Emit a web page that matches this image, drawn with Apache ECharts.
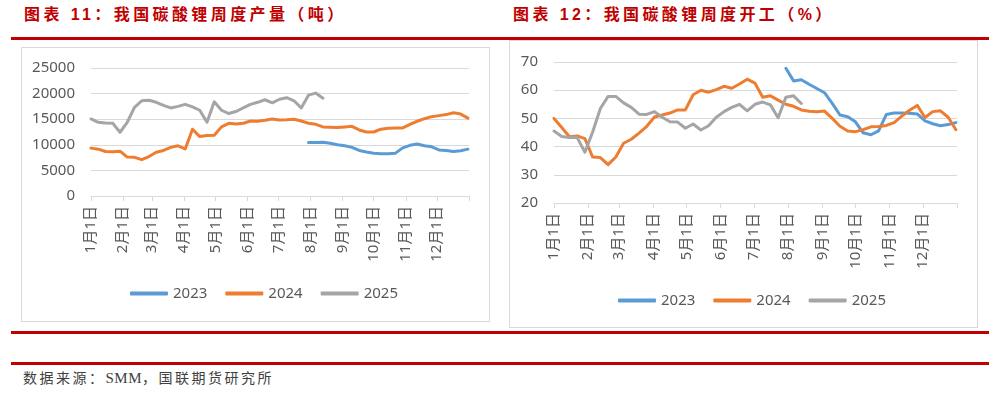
<!DOCTYPE html>
<html lang="zh">
<head>
<meta charset="UTF-8" />
<title>碳酸锂周度产量与开工</title>
<script src="https://cdn.jsdelivr.net/npm/echarts@6/dist/echarts.min.js"></script>
<style>
  html, body { margin: 0; padding: 0; background: #fff; }
  body { position: relative; width: 989px; height: 396px; overflow: hidden; }
  .title { position: absolute; top: 4px; font: bold 16px 'Liberation Sans', 'Noto Sans CJK SC', sans-serif;
           color: #c00000; letter-spacing: 3.4px; line-height: 22px; white-space: nowrap; }
  .rule { position: absolute; left: 11px; right: 0; height: 3px; background: #c00000; }
  .box { position: absolute; border: 1px solid #d9d9d9; }
  .note { position: absolute; left: 23px; top: 369px; font: 14px 'Liberation Serif', 'Noto Sans CJK SC', serif;
          color: #404040; letter-spacing: 2.5px; line-height: 18px; white-space: nowrap; }
  .note span { letter-spacing: 0.5px; font-size: 15px; }
</style>
</head>
<body>
<div class="title" style="left: 24px;">图表 11：我国碳酸锂周度产量（吨）</div>
<div class="title" style="left: 513px;">图表 12：我国碳酸锂周度开工（%）</div>
<div class="rule" style="top: 37px;"></div>
<div class="box" id="output" style="left: 21px; top: 47px; width: 467px; height: 273px;"></div>
<div class="box" id="rate" style="left: 509px; top: 40px; width: 467px; height: 286px;"></div>
<div class="rule" style="top: 331px;"></div>
<div class="rule" style="top: 362px;"></div>
<div class="note">数据来源：<span>SMM</span>，国联期货研究所</div>
<script type="text/javascript">
  const years = ['2023', '2024', '2025'];
  const colors = ['#5b9bd5', '#ed7d31', '#a5a5a5'];

  // day of year where each month starts, plus year end
  const monthDays = [0, 31, 59, 90, 120, 151, 181, 212, 243, 273, 304, 334, 365];
  const monthLabels = ['1月1日', '2月1日', '3月1日', '4月1日', '5月1日', '6月1日',
    '7月1日', '8月1日', '9月1日', '10月1日', '11月1日', '12月1日'];

  // weekly production (t); *Start = week number of the first value
  const output2023Start = 30;
  const output2023 = [10450, 10450, 10500, 10300, 10000, 9800, 9500, 8900, 8600, 8350, 8250, 8250,
    8370, 9400, 9900, 10150, 9800, 9600, 9000, 8900, 8700, 8850, 9150];
  const output2024 = [9350, 9150, 8700, 8650, 8750, 7600, 7550, 7100, 7700, 8550, 8900, 9500, 9800,
    9200, 13050, 11600, 11800, 11850, 13500, 14200, 14050, 14200, 14650, 14600, 14800, 15050, 14850,
    14900, 15000, 14650, 14200, 14000, 13500, 13450, 13400, 13500, 13600, 12900, 12500, 12500, 13050,
    13250, 13300, 13300, 14000, 14600, 15100, 15500, 15700, 15900, 16250, 16000, 15200];
  const output2025 = [15050, 14400, 14250, 14200, 12450, 14400, 17300, 18600, 18700, 18300, 17700,
    17200, 17500, 17900, 17400, 16750, 14400, 18400, 16750, 16100, 16500, 17200, 17900, 18300, 18800,
    18200, 18900, 19200, 18600, 17200, 19700, 20100, 19100];

  // weekly operating rate (%)
  const rate2023Start = 30;
  const rate2023 = [67.8, 63.3, 63.7, 62.1, 60.6, 59.1, 55.3, 51.2, 50.6, 48.8, 44.9, 44.2, 45.6,
    51.4, 51.9, 51.9, 51.8, 51.6, 49.1, 48.1, 47.4, 47.8, 48.5];
  const rate2024 = [50.0, 46.8, 43.5, 43.8, 42.8, 36.3, 36.1, 33.6, 36.3, 41.2, 42.6, 44.8, 47.2,
    50.5, 51.2, 51.9, 53.0, 53.0, 58.4, 60.0, 59.3, 60.2, 61.4, 60.7, 62.2, 63.9, 62.5, 57.5, 58.0,
    56.5, 55.0, 54.3, 53.0, 52.5, 52.4, 52.6, 50.0, 47.2, 45.5, 45.3, 46.0, 47.0, 47.1, 47.5, 48.5,
    50.8, 52.9, 54.6, 50.3, 52.4, 52.7, 50.4, 46.0];
  const rate2025 = [45.5, 43.6, 43.2, 43.2, 38.0, 45.2, 53.5, 57.8, 57.8, 55.5, 53.9, 51.5, 51.4,
    52.4, 50.4, 48.8, 48.7, 46.5, 48.0, 45.9, 47.4, 50.4, 52.4, 53.9, 55.0, 52.7, 55.0, 55.8, 54.8,
    50.2, 57.5, 58.0, 55.3];

  const textFont = "'Noto Sans', 'Noto Sans CJK SC', sans-serif";

  function weekly(values, startWeek) {
    return values.map((v, i) => [(startWeek + i) * 7, v]);
  }

  function lineSeries(name, idx, points) {
    return {
      name: name, type: 'line', data: points,
      symbol: 'none', smooth: false,
      lineStyle: { width: 3, color: colors[idx], join: 'round', cap: 'round' },
      itemStyle: { color: colors[idx] }
    };
  }

  function buildOption(grid, legendPos, yMin, yMax, yStep, seriesData) {
    return {
      animation: false,
      color: colors,
      grid: grid,
      legend: {
        data: years, left: legendPos.left, top: legendPos.top, padding: 0,
        icon: 'roundRect', itemWidth: 38, itemHeight: 4, itemGap: 18,
        textStyle: { color: '#595959', fontSize: 15, fontFamily: textFont }
      },
      xAxis: {
        type: 'value', min: 0, max: 365,
        axisLine: { show: true, lineStyle: { color: '#d9d9d9', width: 1 } },
        axisTick: { show: true, length: 5, customValues: monthDays, lineStyle: { color: '#d9d9d9' } },
        axisLabel: {
          customValues: monthDays.slice(0, 12), rotate: 90, margin: 10,
          color: '#595959', fontSize: 15, fontFamily: textFont,
          formatter: (v) => monthLabels[monthDays.indexOf(v)]
        },
        splitLine: { show: false }
      },
      yAxis: {
        type: 'value', min: yMin, max: yMax, interval: yStep,
        axisLine: { show: false }, axisTick: { show: false },
        axisLabel: { margin: 16, color: '#595959', fontSize: 15, fontFamily: textFont,
          formatter: (v) => String(v) },
        splitLine: { lineStyle: { color: '#d9d9d9', width: 1 } }
      },
      series: seriesData.map((d, i) => lineSeries(years[i], i, d))
    };
  }

  const outputChart = echarts.init(document.getElementById('output'));
  outputChart.setOption(buildOption(
    { left: 69, right: 20, top: 20, bottom: 125 },
    { left: 108, top: 238 },
    0, 25000, 5000,
    [weekly(output2023, output2023Start), weekly(output2024, 0), weekly(output2025, 0)]
  ));

  const rateChart = echarts.init(document.getElementById('rate'));
  rateChart.setOption(buildOption(
    { left: 44, right: 20, top: 21, bottom: 124 },
    { left: 108, top: 252 },
    20, 70, 10,
    [weekly(rate2023, rate2023Start), weekly(rate2024, 0), weekly(rate2025, 0)]
  ));
</script>
</body>
</html>
